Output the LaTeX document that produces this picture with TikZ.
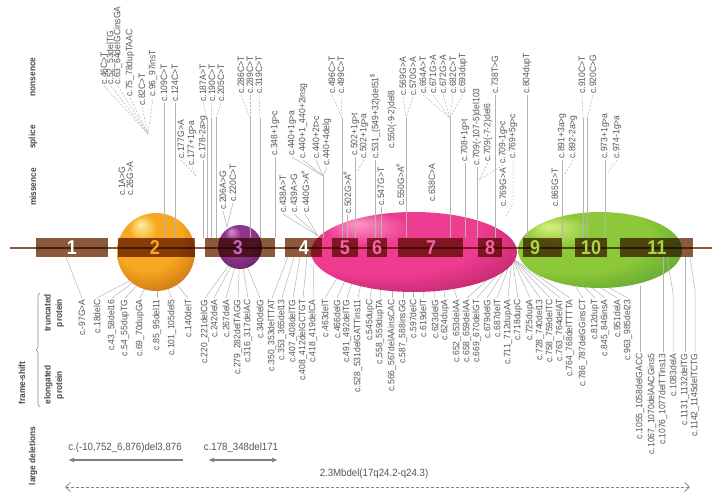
\documentclass[tikz,border=0pt]{standalone}
\usepackage{fontspec}
\newfontfamily\labfont{Liberation Sans}[FakeStretch=0.92]
\newfontfamily\exonfont{Liberation Sans}[FakeStretch=0.9]
\usetikzlibrary{arrows.meta,decorations.pathreplacing}

\definecolor{exonbrown}{RGB}{139,90,60}
\definecolor{labgray}{RGB}{85,85,85}
\definecolor{leadgray}{RGB}{180,180,180}
\definecolor{delgray}{RGB}{128,128,128}
\definecolor{exOrange}{RGB}{250,165,30}
\definecolor{exPurple}{RGB}{200,100,195}
\definecolor{exPink}{RGB}{242,100,165}
\definecolor{exGreen}{RGB}{170,215,70}
\definecolor{orHi}{RGB}{255,240,160}
\definecolor{orMain}{RGB}{248,168,32}
\definecolor{orDark}{RGB}{140,45,8}
\definecolor{puHi}{RGB}{215,140,215}
\definecolor{puMain}{RGB}{142,52,140}
\definecolor{puDark}{RGB}{55,10,52}
\definecolor{piHi}{RGB}{252,150,200}
\definecolor{piMain}{RGB}{238,60,145}
\definecolor{piDark}{RGB}{125,10,55}
\definecolor{grHi}{RGB}{215,240,130}
\definecolor{grMain}{RGB}{140,200,55}
\definecolor{grDark}{RGB}{30,120,45}

\pgfdeclareradialshading{orbOrange}{\pgfpoint{-10bp}{18bp}}{color(0bp)=(orHi); color(9bp)=(orMain); color(22bp)=(orMain); color(52bp)=(orDark)}
\pgfdeclareradialshading{orbPurple}{\pgfpoint{-10bp}{18bp}}{color(0bp)=(puHi); color(9bp)=(puMain); color(22bp)=(puMain); color(52bp)=(puDark)}
\pgfdeclareradialshading{orbPink}{\pgfpoint{-14bp}{18bp}}{color(0bp)=(piHi); color(10bp)=(piMain); color(24bp)=(piMain); color(52bp)=(piDark)}
\pgfdeclareradialshading{orbGreen}{\pgfpoint{-16bp}{16bp}}{color(0bp)=(grHi); color(10bp)=(grMain); color(24bp)=(grMain); color(52bp)=(grDark)}

\begin{document}
\begin{tikzpicture}[x=1pt, y=-1pt,
  mut/.style={font=\labfont\fontsize{9.3}{9.3}\selectfont, text=labgray, rotate=90, inner sep=0pt, outer sep=1.5pt},
  hdr/.style={font=\labfont\bfseries\fontsize{9}{11.5}\selectfont, text=black!72, rotate=90, align=center, inner sep=0pt},
  lead/.style={draw=leadgray, line width=.5pt},
  leadd/.style={lead, dash pattern=on 2pt off 1.5pt},
  exonbox/.style={fill=exonbrown},
  exnum/.style={font=\exonfont\bfseries\fontsize{20}{20}\selectfont, inner sep=0pt},
  deltxt/.style={font=\labfont\fontsize{10.5}{10.5}\selectfont, text=labgray, inner sep=0pt},
  delarrow/.style={draw=delgray, line width=1.6pt}
]
  \useasboundingbox (0,0) rectangle (717,500);

  % row headers
  \node[hdr] (hNon) at (33,77) {nonsence};
  \node[hdr] (hSpl) at (33,137) {splice};
  \node[hdr] (hMis) at (33,187) {missence};
  \node[hdr] (hFs) at (22,383) {frame-shift};
  \node[hdr] (hTr) at (54,313) {truncated\\protein};
  \node[hdr] (hEl) at (54,385) {elongated\\protein};
  \node[hdr] (hLd) at (33,456) {large deletions};
  \coordinate (brB) at (40,407);
  \coordinate (brT) at (40,293);
  \draw[draw=black!45, line width=.6pt, decorate, decoration={brace, amplitude=4pt}] (brB) -- (brT);

  % frame-shift labels below the gene
  \foreach \x/\n/\t/\tx/\ty in {
    82/f97/c.-97G>A/66/257, 97/f18/c.18delC/150/270, 112/f43/c.43\_58del16/150/270,
    125/f54/c.54\_55dupTG/152/270, 140/f69/c.69\_70dupGA/154/270, 157/f85/c.85\_95del11/157/270,
    172/f101/c.101\_105del5/160/270, 188/f140/c.140delT/165/270, 205/f220/c.220\_221delCG/240/250,
    214/f242/c.242delA/240/250, 226/f267/c.267delA/240/250, 238/f279/c.279\_282delTAGG/240/250,
    248/f316/c.316\_317delAC/240/250, 260/f340/c.340delG/240/250, 272/f350/c.350\_353delTTAT/288/257,
    282/f353/c.353\_365del13/294/257, 293/f407/c.407\_408delTG/300/257, 303/f408/c.408\_412delGCTGT/307/257,
    313/f418/c.418\_419delCA/314/257, 325/f463/c.463delT/345/265, 337/f466/c.466delG/352/265,
    347/f491/c.491\_492delTG/358/265, 358/f528/c.528\_531delGATTins11/365/265, 370/f545/c.545dupC/375/265,
    380/f558/c.558\_559dupTA/382/265, 392/f566/c.566\_567delAAinsCAC/392/265, 403/f587/c.587\_588insGG/403/265,
    413/f597/c.597delC/413/265, 423/f619/c.619delT/425/265, 435/f623/c.623delG/433/265,
    445/f624/c.624dupA/440/265, 457/f652/c.652\_653delAA/445/265, 467/f658/c.658\_659delAA/512/258,
    477/f669/c.669\_670delGT/512/258, 487/f679/c.679delG/512/258, 497/f687/c.687delT/512/258,
    508/f711/c.711\_712dupAA/512/258, 518/f718/c.718dupC/512/258, 530/f725/c.725dupA/512/258,
    540/f728/c.728\_740del13/512/258, 550/f758/c.758\_759delTC/512/258, 560/f763/c.763\_764delAT/512/258,
    570/f764/c.764\_768delTTTTA/512/258, 583/f786/c.786\_787delGGinsCT/560/262, 595/f812/c.812dupT/560/262,
    605/f845/c.845\_846insA/560/262, 617/f951/c.951delA/560/262, 628/f963/c.963\_985del23/560/262} {
    \node[mut, anchor=east] (\n) at (\x,298) {\t};
    \coordinate (\n-t) at (\tx,\ty);
    \draw[lead] (\n.east) -- (\n-t);
  }
  \foreach \x/\n/\t in {640/f1055/c.1055\_1058delGACC, 652/f1067/c.1067\_1070delAACGins5,
    663/f1076/c.1076\_1077delTTins13, 673/f1083/c.1083delA, 685/f1131/c.1131\_1132delTG,
    695/f1142/c.1142\_1145delTCTG}
    \node[mut, anchor=east] (\n) at (\x,352) {\t};

  % bubbles
  \shade[shading=orbOrange] (156,252) circle[radius=39pt];
  \shade[shading=orbPurple] (240,247) circle[radius=22pt];
  \shade[shading=orbPink] (414,252) ellipse[x radius=103pt, y radius=40pt];
  \shade[shading=orbGreen] (600,250) ellipse[x radius=82pt, y radius=38pt];

  % gene with exons
  \coordinate (bbL) at (10,247.5);
  \coordinate (bbR) at (712,247.5);
  \begin{scope}[blend mode=multiply]
    \draw[exonbrown, line width=2pt] (bbL) -- (bbR);
    \foreach \a/\b in {36/108,118/195,205/275,285/322,332/358,367/387,398/463,478/502,523/562,575/607,620/693}
      \fill[exonbox] (\a,238) rectangle (\b,257);
  \end{scope}
  \foreach \k/\m/\c in {1/72/white,2/155/exOrange,3/238/exPurple,4/304/white,5/345/exPink,6/377/exPink,
    7/431/exPink,8/490/exPink,9/535/exGreen,10/591/exGreen,11/657/exGreen}
    \node[exnum, text=\c] (ex\k) at (\m,248) {\k};

  \coordinate (k1055) at (640,286);
  \coordinate (k1076) at (663,257);
  \coordinate (k1083a) at (673,293);
  \coordinate (k1083b) at (667,257);
  \coordinate (k1131) at (685,257);
  \coordinate (k1142a) at (695,290);
  \coordinate (k1142b) at (690,257);
  \draw[lead] (f1055.east) -- (k1055);
  \draw[lead] (f1076.east) -- (k1076);
  \draw[lead] (f1083.east) -- (k1083a) -- (k1083b);
  \draw[lead] (f1131.east) -- (k1131);
  \draw[lead] (f1142.east) -- (k1142a) -- (k1142b);

  % point mutations above the gene
  \foreach \x/\y/\n/\t in {
    104/86/n46/c.46C>T, 111/86/n52/c.52\_53delTG, 118/86/n63/c.63\_64delGCinsGA,
    130/98/n75/c.75\_78dupTAAC, 142/107/n82/c.82C>T, 153/98/n96/c.96\_97insT,
    164/103/n109/c.109C>T, 175/103/n124/c.124C>T, 203/103/n187/c.187A>T,
    212/103/n190/c.190C>T, 221/103/n205/c.205C>T, 241/95/n286/c.286C>T,
    250/95/n289/c.289C>T, 259/95/n319/c.319C>T, 332/95/n496/c.496C>T,
    341/95/n499/c.499C>T, 403/97/n569/c.569G>A, 413/97/n570/c.570G>A,
    423/95/n664/c.664A>T, 433/95/n671/c.671G>A, 443/95/n672/c.672G>A,
    453/95/n682/c.682C>T, 463/95/n693/c.693dupT, 495/95/n738/c.738T>G,
    527/95/n804/c.804dupT, 582/95/n910/c.910C>T, 593/95/n920/c.920C>G,
    181/160/s177a/c.177G>A, 192/167/s177b/c.177+1g>a, 203/160/s178/c.178-2a>g,
    275/157/s348/c.348+1g>c, 292/157/s440a/c.440+1g>a, 303/160/s440b/c.440+1\_440+2insg,
    316/160/s440c/c.440+2t>c, 327/167/s440d/c.440+4delg, 355/157/s502a/c.502+1g>t,
    364/160/s502b/c.502+1g>a, 375/160/s531/c.531\_(549+32)del51\textsuperscript{\$},
    392/150/s550/c.550(-9-2)del8, 465/163/s708/c.708+1g>t, 477/167/s709a/c.709(-107-5)del103,
    488/163/s709b/c.709(-7-2)del6, 503/165/s709c/c.709-1g>c, 513/160/s769/c.769+5g>c,
    562/160/s891/c.891+3a>g, 573/160/s892/c.892-2a>g, 605/160/s973/c.973+1g>a,
    617/160/s974/c.974-1g>a,
    122/197/m1/c.1A>G, 130/197/m26/c.26G>A, 223/211/m206/c.206A>G,
    233/203/m220/c.220C>T, 283/214/m438/c.438A>T, 294/214/m439/c.439A>G,
    305/214/m440/c.440G>A\textsuperscript{\#}, 347/215/m502/c.502G>A\textsuperscript{\#},
    381/207/m547/c.547G>T, 400/207/m550/c.550G>A\textsuperscript{\#}, 432/203/m638/c.638C>A,
    503/208/m769/c.769G>A, 555/208/m865/c.865G>T}
    \node[mut, anchor=west] (\n) at (\x,\y) {\t};

  \coordinate (exTop) at (0,238);
  \coordinate (hA) at (148,134);
  \foreach \n in {n46,n52,n63,n75,n82,n96} \draw[leadd] (\n.west) -- (hA);
  \foreach \n in {n109,n124,s178,s348,m502,s502a,s531,m547,s708,s709a,n738,n804,s891,s973}
    \draw[lead] (\n.west) -- (\n.west |- exTop);
  \coordinate (hB) at (196,176);
  \foreach \n in {s177a,s177b} \draw[leadd] (\n.west) -- (hB);
  \foreach \n/\k in {n187/207,n190/211,n205/216,n286/250,n289/250,n319/260,n496/342,n499/342,
    n569/406,n570/406,n664/450,n671/450,n672/450,n682/450,n693/450,n910/583,n920/587} {
    \coordinate (\n-h) at (\k,118);
    \draw[leadd] (\n.west) -- (\n-h);
    \draw[lead] (\n-h) -- (\n-h |- exTop);
  }
  \coordinate (hC) at (227,227);
  \foreach \n in {m206,m220} \draw[lead] (\n.west) -- (hC);
  \coordinate (hF) at (318,236);
  \foreach \n in {m438,m439,m440} \draw[lead] (\n.west) -- (hF);
  \coordinate (hG) at (323,176);
  \foreach \n in {s440a,s440b,s440c,s440d} \draw[lead] (\n.west) -- (hG);
  \draw[lead] (hG) -- (hG |- exTop);
  \coordinate (hI) at (357,172);
  \draw[leadd] (s502b.west) -- (hI);
  \coordinate (hK) at (479,180);
  \foreach \n in {s709b,s709c} \draw[leadd] (\n.west) -- (hK);
  \coordinate (hJ) at (513,204);
  \coordinate (hJ2) at (505,218);
  \draw[leadd] (s769.west) -- (hJ) -- (hJ2);
  \coordinate (hL) at (565,174);
  \draw[leadd] (s892.west) -- (hL);
  \coordinate (hM) at (608,172);
  \draw[leadd] (s974.west) -- (hM);

  % large deletions
  \node[deltxt] (d1) at (125,448) {c.(-10,752\_6,876)del3,876};
  \coordinate (d1l) at (68,460);
  \coordinate (d1r) at (183,460);
  \draw[delarrow, -{Latex[length=6pt,width=5pt]}] (d1r) -- (d1l);
  \node[deltxt] (d2) at (241,448) {c.178\_348del171};
  \coordinate (d2l) at (208,460);
  \coordinate (d2r) at (278,460);
  \draw[delarrow, {Latex[length=6pt,width=5pt]}-{Latex[length=6pt,width=5pt]}] (d2l) -- (d2r);
  \node[deltxt] (d3) at (374,474) {2.3Mbdel(17q24.2-q24.3)};
  \coordinate (d3l) at (65,487);
  \coordinate (d3r) at (690,487);
  \draw[draw=delgray, line width=.7pt, dash pattern=on 3pt off 2pt,
    {Straight Barb[length=5pt,width=9pt]}-{Straight Barb[length=5pt,width=9pt]}] (d3l) -- (d3r);
\end{tikzpicture}
\end{document}
